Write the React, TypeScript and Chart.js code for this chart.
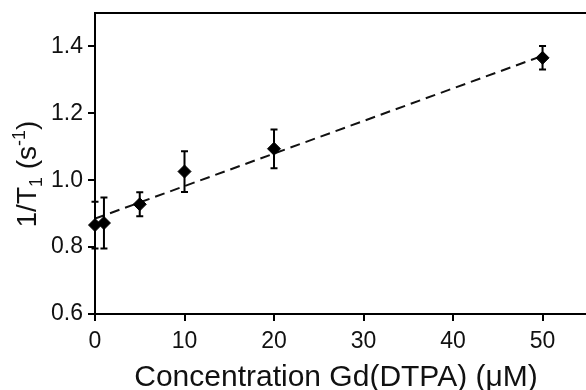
import React, { useEffect, useRef } from "react";
import { Chart, registerables } from "chart.js";

Chart.register(...registerables);

// Data
const concentrations = [0, 1, 5, 10, 20, 50];
const r1Values = [0.866, 0.872, 0.928, 1.026, 1.094, 1.366];
const r1Errors = [0.07, 0.076, 0.036, 0.061, 0.058, 0.035];
const fitX = [0, 50];
const fitY = [0.885, 1.372];
const xTicks = [0, 10, 20, 30, 40, 50];
const yTicks = [0.6, 0.8, 1.0, 1.2, 1.4];
const xTitle = "Concentration Gd(DTPA) (\u03bcM)";

const FONT = "'Liberation Sans', Arial, Helvetica, sans-serif";

const errorBarPlugin = {
  id: "errorBars",
  afterDatasetsDraw(chart: any) {
    const { ctx } = chart;
    const xs = chart.scales.x;
    const ys = chart.scales.y;
    ctx.save();
    ctx.strokeStyle = "#000";
    ctx.lineWidth = 2;
    concentrations.forEach((c, i) => {
      const px = xs.getPixelForValue(c);
      const yTop = ys.getPixelForValue(r1Values[i] + r1Errors[i]);
      const yBot = ys.getPixelForValue(r1Values[i] - r1Errors[i]);
      ctx.beginPath();
      ctx.moveTo(px, yTop);
      ctx.lineTo(px, yBot);
      ctx.moveTo(px - 3.5, yTop);
      ctx.lineTo(px + 3.5, yTop);
      ctx.moveTo(px - 3.5, yBot);
      ctx.lineTo(px + 3.5, yBot);
      ctx.stroke();
    });
    ctx.restore();
  },
};

const framePlugin = {
  id: "frameAndTitles",
  afterDraw(chart: any) {
    const { ctx, chartArea } = chart;
    ctx.save();
    // top border
    ctx.strokeStyle = "#000";
    ctx.lineWidth = 2;
    ctx.beginPath();
    ctx.moveTo(chartArea.left - 1, chartArea.top);
    ctx.lineTo(chartArea.right + 2, chartArea.top);
    ctx.stroke();

    // x-axis title
    ctx.fillStyle = "#111";
    ctx.font = `30px ${FONT}`;
    ctx.textAlign = "center";
    ctx.textBaseline = "alphabetic";
    ctx.fillText(xTitle, 336, 386);

    // y-axis title with subscript / superscript
    const big = 28;
    const small = 18;
    const parts: { t: string; size: number; dy: number }[] = [
      { t: "1/T", size: big, dy: 0 },
      { t: "1", size: small, dy: 6 },
      { t: " (s", size: big, dy: 0 },
      { t: "-1", size: small, dy: -11 },
      { t: ")", size: big, dy: 0 },
    ];
    let total = 0;
    parts.forEach((p) => {
      ctx.font = `${p.size}px ${FONT}`;
      total += ctx.measureText(p.t).width;
    });
    ctx.translate(36, 174);
    ctx.rotate(-Math.PI / 2);
    ctx.textAlign = "left";
    let x = -total / 2;
    parts.forEach((p) => {
      ctx.font = `${p.size}px ${FONT}`;
      ctx.fillText(p.t, x, p.dy);
      x += ctx.measureText(p.t).width;
    });
    ctx.restore();
  },
};

export default function App() {
  const canvasRef = useRef<HTMLCanvasElement | null>(null);

  useEffect(() => {
    document.body.style.margin = "0";
    const canvas = canvasRef.current;
    if (!canvas) return;
    const chart = new Chart(canvas, {
      type: "scatter",
      data: {
        datasets: [
          {
            type: "line",
            label: "fit",
            data: fitX.map((x, i) => ({ x, y: fitY[i] })),
            borderColor: "#111",
            borderWidth: 2,
            borderDash: [10, 6],
            pointRadius: 0,
            fill: false,
            order: 2,
          } as any,
          {
            label: "data",
            data: concentrations.map((x, i) => ({ x, y: r1Values[i] })),
            pointStyle: "rectRot",
            pointRadius: 6.5,
            pointHoverRadius: 6.5,
            backgroundColor: "#000",
            borderColor: "#000",
            borderWidth: 1,
            clip: false,
            order: 1,
          } as any,
        ],
      },
      options: {
        animation: false,
        responsive: false,
        devicePixelRatio: 1,
        events: [],
        layout: { padding: { top: 13, right: 0, left: 0, bottom: 0 } },
        plugins: {
          legend: { display: false },
          tooltip: { enabled: false },
        },
        scales: {
          x: {
            type: "linear",
            min: 0,
            max: 54.8,
            afterBuildTicks: (scale: any) => {
              scale.ticks = xTicks.map((v) => ({ value: v }));
            },
            afterFit: (scale: any) => {
              scale.height = 76;
              scale.paddingLeft = 0;
              scale.paddingRight = 0;
            },
            ticks: {
              color: "#111",
              font: { family: FONT, size: 23 },
              padding: 7,
              maxRotation: 0,
              callback: (v: any) => String(v),
            },
            grid: {
              drawOnChartArea: false,
              color: "#000",
              lineWidth: 2,
              tickLength: 7,
            },
            border: { display: true, color: "#000", width: 2 },
          },
          y: {
            type: "linear",
            min: 0.6,
            max: 1.5,
            afterBuildTicks: (scale: any) => {
              scale.ticks = yTicks.map((v) => ({ value: v }));
            },
            afterFit: (scale: any) => {
              scale.width = 95;
              scale.paddingTop = 0;
              scale.paddingBottom = 0;
            },
            ticks: {
              color: "#111",
              font: { family: FONT, size: 23 },
              padding: 5,
              callback: (v: any) => Number(v).toFixed(1),
            },
            grid: {
              drawOnChartArea: false,
              color: "#000",
              lineWidth: 2,
              tickLength: 7,
            },
            border: { display: true, color: "#000", width: 2 },
          },
        },
      },
      plugins: [errorBarPlugin, framePlugin],
    });
    return () => chart.destroy();
  }, []);

  return (
    <div style={{ width: 586, height: 390, overflow: "hidden", background: "#fff" }}>
      <canvas ref={canvasRef} width={593} height={390} />
    </div>
  );
}
